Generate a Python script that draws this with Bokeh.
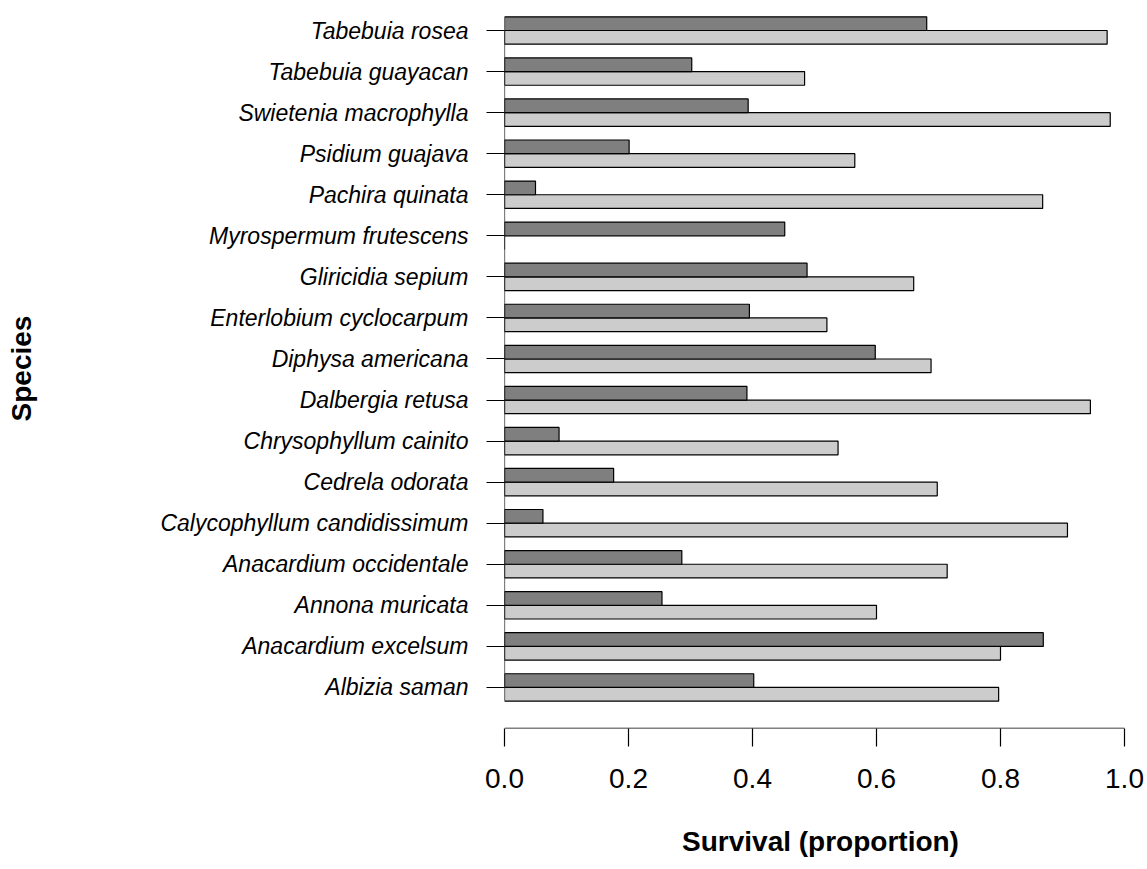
from bokeh.plotting import figure
from bokeh.models import FixedTicker, Range1d
from bokeh.embed import file_html
from bokeh.resources import INLINE

# Data (bottom to top as in the R barplot)
species = [
    "Albizia saman", "Anacardium excelsum", "Annona muricata",
    "Anacardium occidentale", "Calycophyllum candidissimum", "Cedrela odorata",
    "Chrysophyllum cainito", "Dalbergia retusa", "Diphysa americana",
    "Enterlobium cyclocarpum", "Gliricidia sepium", "Myrospermum frutescens",
    "Pachira quinata", "Psidium guajava", "Swietenia macrophylla",
    "Tabebuia guayacan", "Tabebuia rosea",
]
dark_vals = [0.402, 0.869, 0.254, 0.286, 0.062, 0.176, 0.088, 0.391, 0.598,
             0.395, 0.488, 0.452, 0.050, 0.201, 0.393, 0.302, 0.681]
light_vals = [0.797, 0.800, 0.600, 0.714, 0.908, 0.698, 0.538, 0.945, 0.688,
              0.520, 0.660, 0.000, 0.868, 0.565, 0.977, 0.484, 0.972]
x_ticks = [0.0, 0.2, 0.4, 0.6, 0.8, 1.0]

centers = [3 * i + 2 for i in range(len(species))]
dark_y = [c + 0.5 for c in centers]
light_y = [c - 0.5 for c in centers]

FONT = "Liberation Sans"

p = figure(width=1146, height=860, output_backend="svg", toolbar_location=None,
           x_range=Range1d(0, 632 / 620), y_range=Range1d(-1, -1 + 720 / 13.686),
           min_border_left=504, min_border_right=10, min_border_top=8,
           min_border_bottom=132)
p.outline_line_color = None
p.grid.visible = False
p.background_fill_color = "white"

p.hbar(y=light_y, right=light_vals, left=0, height=1.0,
       fill_color="#cccccc", line_color="black", line_width=1.2)
p.hbar(y=dark_y, right=dark_vals, left=0, height=1.0,
       fill_color="#7f7f7f", line_color="black", line_width=1.2)

# vertical axis line from first to last tick (R style)
p.segment(x0=[0], y0=[centers[0]], x1=[0], y1=[centers[-1]],
          line_color="black", line_width=1.2)

# y axis
ya = p.yaxis[0]
ya.ticker = FixedTicker(ticks=centers)
ya.major_label_overrides = {c: s for c, s in zip(centers, species)}
ya.axis_line_color = None
ya.major_tick_out = 18
ya.major_tick_in = 0
ya.major_tick_line_width = 1.2
ya.minor_tick_line_color = None
ya.major_label_standoff = 18
ya.major_label_text_font = FONT
ya.major_label_text_font_style = "italic"
ya.major_label_text_font_size = "23px"
ya.major_label_text_color = "black"
ya.axis_label = "Species"
ya.axis_label_text_font = FONT
ya.axis_label_text_font_style = "bold"
ya.axis_label_text_font_size = "28px"
ya.axis_label_standoff = 120
ya.axis_label_text_color = "black"

# x axis
xa = p.xaxis[0]
xa.ticker = FixedTicker(ticks=x_ticks)
xa.major_label_overrides = {t: f"{t:.1f}" for t in x_ticks}
xa.axis_line_color = None
xa.major_tick_out = 18
xa.major_tick_in = 0
xa.major_tick_line_width = 1.2
xa.minor_tick_line_color = None
xa.major_label_standoff = 22
xa.major_label_text_font = FONT
xa.major_label_text_font_size = "28px"
xa.major_label_text_color = "black"
xa.axis_label = "Survival (proportion)"
xa.axis_label_text_font = FONT
xa.axis_label_text_font_style = "bold"
xa.axis_label_text_font_size = "28px"
xa.axis_label_standoff = 35
xa.axis_label_text_color = "black"

# x axis line from 0 to 1 at the bottom of the frame
p.segment(x0=[0], y0=[-1], x1=[1], y1=[-1], line_color="black", line_width=1.5)

open("out.html", "w").write(file_html(p, INLINE))
